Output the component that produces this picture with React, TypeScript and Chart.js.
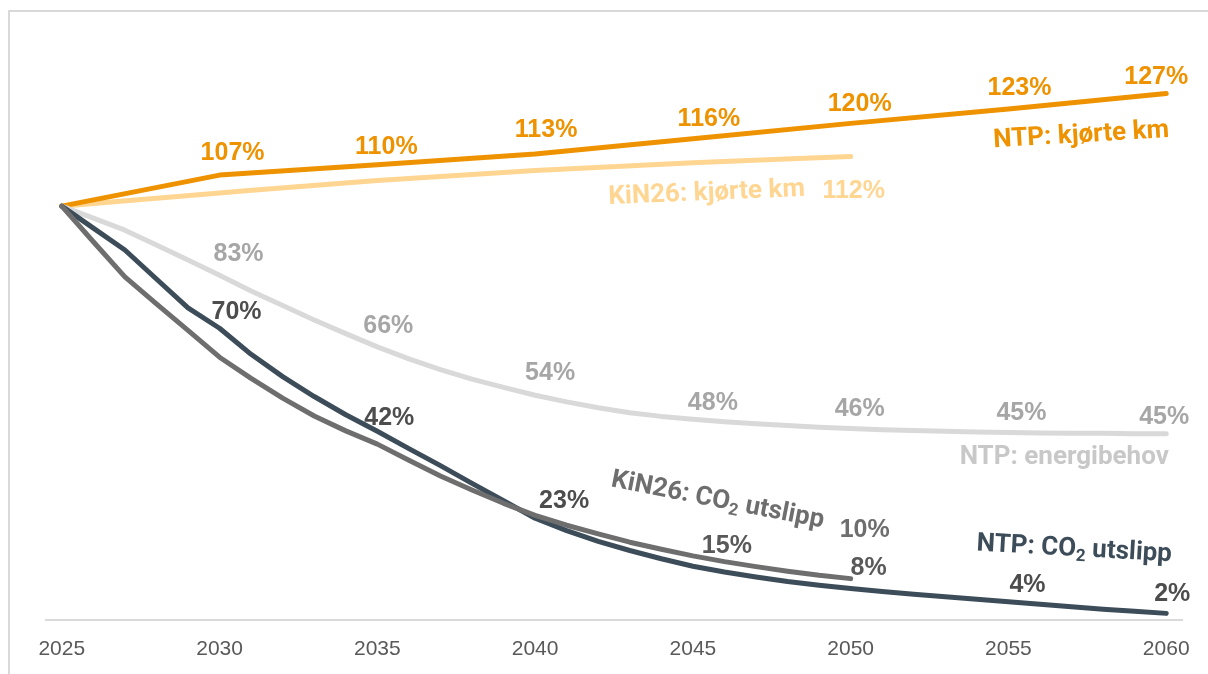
import React, { useEffect, useRef } from "react";
import { Chart, registerables } from "chart.js";

Chart.register(...registerables);

// ---------- data ----------
const tickYears = [2025, 2030, 2035, 2040, 2045, 2050, 2055, 2060];

const ntpKmYears = [2025, 2030, 2035, 2040, 2045, 2050, 2055, 2060];
const ntpKm = [100, 107.5, 110, 112.6, 116.3, 120, 123.5, 127.2];

const kinKmYears = [2025, 2030, 2035, 2040, 2045, 2050];
const kinKm = [100, 103.2, 106.2, 108.6, 110.5, 112];

const annualYears = [
  2025, 2026, 2027, 2028, 2029, 2030, 2031, 2032, 2033, 2034, 2035, 2036,
  2037, 2038, 2039, 2040, 2041, 2042, 2043, 2044, 2045, 2046, 2047, 2048,
  2049, 2050, 2051, 2052, 2053, 2054, 2055, 2056, 2057, 2058, 2059, 2060,
];
const ntpEnergy = [
  100, 97.1, 94.2, 90.6, 87, 83.3, 79.5, 76, 72.5, 69.2, 66, 63.1, 60.5, 58.2,
  56.2, 54.3, 52.7, 51.3, 50.1, 49.2, 48.5, 47.9, 47.4, 47, 46.6, 46.3, 46,
  45.8, 45.6, 45.4, 45.3, 45.2, 45.1, 45.1, 45, 45,
];
const ntpCo2 = [
  100, 94.7, 89.4, 82.4, 75.4, 70.5, 64.2, 58.8, 54, 49.6, 45.6, 41.4, 37.3,
  33, 28.8, 24.6, 21.6, 19, 16.8, 14.8, 13, 11.6, 10.4, 9.3, 8.4, 7.6, 6.9,
  6.2, 5.6, 5, 4.4, 3.8, 3.2, 2.6, 2.1, 1.6,
];

const kinCo2Years = [
  2025, 2026, 2027, 2028, 2029, 2030, 2031, 2032, 2033, 2034, 2035, 2036,
  2037, 2038, 2039, 2040, 2041, 2042, 2043, 2044, 2045, 2046, 2047, 2048,
  2049, 2050,
];
const kinCo2 = [
  100, 91.4, 82.9, 76.4, 70, 63.5, 58.4, 53.6, 49.3, 45.7, 42.5, 38.6, 34.8,
  31.4, 28.2, 25.3, 22.9, 20.8, 18.8, 17.1, 15.5, 14.1, 12.9, 11.8, 10.8, 10,
];

// ---------- styles ----------
const ORANGE = "#EE9200";
const LIGHT_ORANGE = "#FFD592";
const ENERGY_LINE = "#D9D9D9";
const ENERGY_PCT = "#A6A6A6";
const ENERGY_NAME = "#C8C8C8";
const NTP_CO2 = "#3D4C59";
const KIN_CO2 = "#6E6E6E";
const PCT_DARK = "#4D4D4D";
const PCT_MID = "#595959";

const PCT_FONT = "bold 25px 'Liberation Sans', Arial, sans-serif";
const NAME_FONT = "bold 26px Roboto, 'Liberation Sans', sans-serif";
const NAME_SUB_FONT = "bold 17px Roboto, 'Liberation Sans', sans-serif";

type SeriesKey = "ntpKm" | "kinKm" | "energy" | "ntpCo2" | "kinCo2";
const series: Record<SeriesKey, { years: number[]; values: number[] }> = {
  ntpKm: { years: ntpKmYears, values: ntpKm },
  kinKm: { years: kinKmYears, values: kinKm },
  energy: { years: annualYears, values: ntpEnergy },
  ntpCo2: { years: annualYears, values: ntpCo2 },
  kinCo2: { years: kinCo2Years, values: kinCo2 },
};

type Part = [string, boolean?];
type Note = {
  parts: Part[];
  ds: SeriesKey;
  year: number;
  dx: number;
  dy: number;
  color: string;
  font: string;
  rot?: number;
};

const pct = (t: string): Part[] => [[t]];

const notes: Note[] = [
  // NTP: kjørte km
  { parts: pct("107%"), ds: "ntpKm", year: 2030, dx: 13, dy: -22, color: ORANGE, font: PCT_FONT },
  { parts: pct("110%"), ds: "ntpKm", year: 2035, dx: 9, dy: -18, color: ORANGE, font: PCT_FONT },
  { parts: pct("113%"), ds: "ntpKm", year: 2040, dx: 11, dy: -24, color: ORANGE, font: PCT_FONT },
  { parts: pct("116%"), ds: "ntpKm", year: 2045, dx: 16, dy: -20, color: ORANGE, font: PCT_FONT },
  { parts: pct("120%"), ds: "ntpKm", year: 2050, dx: 9, dy: -19, color: ORANGE, font: PCT_FONT },
  { parts: pct("123%"), ds: "ntpKm", year: 2055, dx: 11, dy: -21, color: ORANGE, font: PCT_FONT },
  { parts: pct("127%"), ds: "ntpKm", year: 2060, dx: -10, dy: -16, color: ORANGE, font: PCT_FONT },
  { parts: [["NTP: kjørte km"]], ds: "ntpKm", year: 2060, dx: -85, dy: 42, color: ORANGE, font: NAME_FONT, rot: -3.3 },
  // KiN26: kjørte km
  { parts: pct("112%"), ds: "kinKm", year: 2050, dx: 3, dy: 35, color: LIGHT_ORANGE, font: PCT_FONT },
  { parts: [["KiN26: kjørte km"]], ds: "kinKm", year: 2050, dx: -144, dy: 37, color: LIGHT_ORANGE, font: NAME_FONT, rot: -2.4 },
  // NTP: energibehov
  { parts: pct("83%"), ds: "energy", year: 2030, dx: 19, dy: -21, color: ENERGY_PCT, font: PCT_FONT },
  { parts: pct("66%"), ds: "energy", year: 2035, dx: 11, dy: -21, color: ENERGY_PCT, font: PCT_FONT },
  { parts: pct("54%"), ds: "energy", year: 2040, dx: 15, dy: -22, color: ENERGY_PCT, font: PCT_FONT },
  { parts: pct("48%"), ds: "energy", year: 2045, dx: 20, dy: -16, color: ENERGY_PCT, font: PCT_FONT },
  { parts: pct("46%"), ds: "energy", year: 2050, dx: 9, dy: -19, color: ENERGY_PCT, font: PCT_FONT },
  { parts: pct("45%"), ds: "energy", year: 2055, dx: 13, dy: -19, color: ENERGY_PCT, font: PCT_FONT },
  { parts: pct("45%"), ds: "energy", year: 2060, dx: -2, dy: -17, color: ENERGY_PCT, font: PCT_FONT },
  { parts: [["NTP: energibehov"]], ds: "energy", year: 2060, dx: -102, dy: 24, color: ENERGY_NAME, font: NAME_FONT },
  // CO2
  { parts: pct("70%"), ds: "ntpCo2", year: 2030, dx: 17, dy: -16, color: PCT_DARK, font: PCT_FONT },
  { parts: pct("42%"), ds: "ntpCo2", year: 2035, dx: 12, dy: -13, color: PCT_DARK, font: PCT_FONT },
  { parts: pct("23%"), ds: "kinCo2", year: 2040, dx: 29, dy: -14, color: PCT_DARK, font: PCT_FONT },
  { parts: pct("15%"), ds: "kinCo2", year: 2045, dx: 34, dy: -10, color: PCT_MID, font: PCT_FONT },
  { parts: pct("10%"), ds: "kinCo2", year: 2050, dx: 14, dy: -49, color: KIN_CO2, font: PCT_FONT },
  { parts: pct("8%"), ds: "ntpCo2", year: 2050, dx: 18, dy: -20, color: PCT_MID, font: PCT_FONT },
  { parts: pct("4%"), ds: "ntpCo2", year: 2055, dx: 19, dy: -17, color: PCT_DARK, font: PCT_FONT },
  { parts: pct("2%"), ds: "ntpCo2", year: 2060, dx: 6, dy: -19, color: PCT_DARK, font: PCT_FONT },
  { parts: [["NTP: CO"], ["2", true], [" utslipp"]], ds: "ntpCo2", year: 2060, dx: -92, dy: -64, color: NTP_CO2, font: NAME_FONT, rot: 3.2 },
  { parts: [["KiN26: CO"], ["2", true], [" utslipp"]], ds: "kinCo2", year: 2050, dx: -133, dy: -78, color: KIN_CO2, font: NAME_FONT, rot: 11 },
];

const notesPlugin = {
  id: "notes",
  afterDatasetsDraw(chart: any) {
    const { ctx } = chart;
    const xs = chart.scales.x;
    const ys = chart.scales.y;
    for (const n of notes) {
      const s = series[n.ds];
      const i = s.years.indexOf(n.year);
      const px = xs.getPixelForValue(n.year) + n.dx;
      const py = ys.getPixelForValue(s.values[i]) + n.dy;
      ctx.save();
      ctx.translate(px, py);
      ctx.rotate(((n.rot || 0) * Math.PI) / 180);
      ctx.fillStyle = n.color;
      ctx.textBaseline = "middle";
      ctx.textAlign = "left";
      let total = 0;
      const widths = n.parts.map(([t, sub]) => {
        ctx.font = sub ? NAME_SUB_FONT : n.font;
        const w = ctx.measureText(t).width;
        total += w;
        return w;
      });
      let cx = -total / 2;
      n.parts.forEach(([t, sub], k) => {
        ctx.font = sub ? NAME_SUB_FONT : n.font;
        ctx.fillText(t, cx, sub ? 7 : 0);
        cx += widths[k];
      });
      ctx.restore();
    }
  },
};

const toPoints = (years: number[], values: number[]) =>
  years.map((x, i) => ({ x, y: values[i] }));

const lineStyle = {
  borderWidth: 5,
  pointRadius: 0,
  pointHoverRadius: 0,
  borderCapStyle: "round" as const,
  borderJoinStyle: "round" as const,
  fill: false,
};

export default function App() {
  const ref = useRef<HTMLCanvasElement>(null);

  useEffect(() => {
    document.body.style.margin = "0";
    const chart = new Chart(ref.current as HTMLCanvasElement, {
      type: "line",
      data: {
        datasets: [
          { label: "KiN26: CO2 utslipp", data: toPoints(kinCo2Years, kinCo2), borderColor: KIN_CO2, ...lineStyle, tension: 0 },
          { label: "NTP: CO2 utslipp", data: toPoints(annualYears, ntpCo2), borderColor: NTP_CO2, ...lineStyle, tension: 0 },
          { label: "NTP: energibehov", data: toPoints(annualYears, ntpEnergy), borderColor: ENERGY_LINE, ...lineStyle, tension: 0 },
          { label: "NTP: kjørte km", data: toPoints(ntpKmYears, ntpKm), borderColor: ORANGE, ...lineStyle, tension: 0 },
          { label: "KiN26: kjørte km", data: toPoints(kinKmYears, kinKm), borderColor: LIGHT_ORANGE, ...lineStyle, cubicInterpolationMode: "monotone" },
        ] as any,
      },
      options: {
        responsive: false,
        devicePixelRatio: 1,
        animation: false,
        layout: { padding: { left: 46, right: 26, top: 82, bottom: 12 } },
        plugins: { legend: { display: false }, tooltip: { enabled: false } },
        scales: {
          x: {
            type: "linear",
            min: 2024.5,
            max: 2060.5,
            afterBuildTicks: (scale: any) => {
              scale.ticks = tickYears.map((v) => ({ value: v }));
            },
            afterFit: (scale: any) => {
              scale.height = 42;
            },
            ticks: {
              callback: (v: any) => String(v),
              color: "#595959",
              font: { family: "'Liberation Sans', Arial, sans-serif", size: 21, lineHeight: 1.2 },
              padding: 17,
              maxRotation: 0,
              autoSkip: false,
            },
            grid: { display: false, drawTicks: false },
            border: { display: true, color: "#D9D9D9", width: 2 },
          },
          y: { display: false, min: 0, max: 130 },
        },
      } as any,
      plugins: [notesPlugin],
    });
    return () => chart.destroy();
  }, []);

  return (
    <div style={{ position: "relative", width: 1208, height: 674, overflow: "hidden", background: "#fff" }}>
      <div
        style={{
          position: "absolute",
          left: 8,
          top: 10,
          width: 1400,
          height: 900,
          borderTop: "2px solid #D9D9D9",
          borderLeft: "2px solid #D9D9D9",
          boxSizing: "border-box",
        }}
      />
      <canvas ref={ref} width={1208} height={674} style={{ position: "absolute", left: 0, top: 0 }} />
    </div>
  );
}
